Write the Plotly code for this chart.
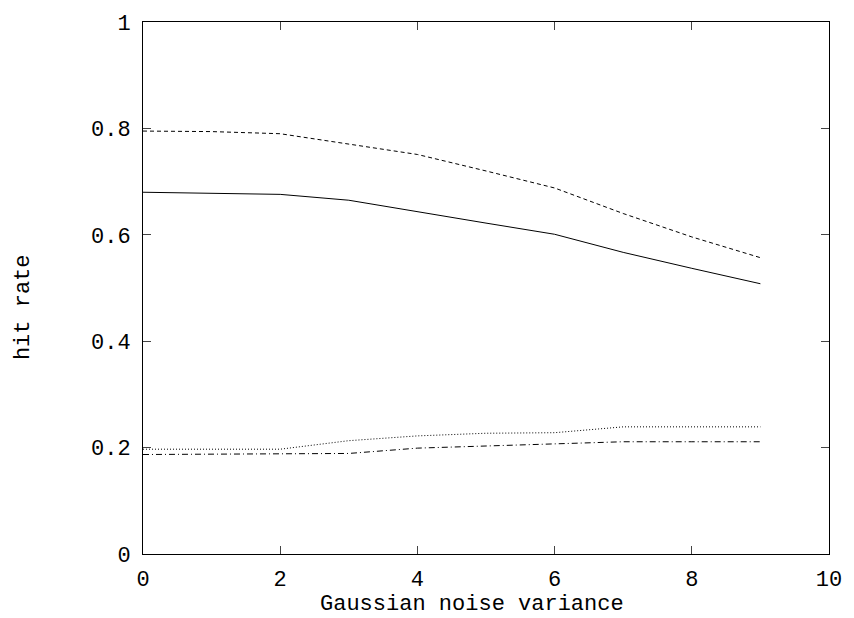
import plotly.graph_objects as go

x_vals = [0, 1, 2, 3, 4, 5, 6, 7, 8, 9]
solid = [0.680, 0.678, 0.676, 0.665, 0.643, 0.622, 0.601, 0.567, 0.537, 0.508]
dashed = [0.795, 0.794, 0.790, 0.771, 0.751, 0.720, 0.688, 0.640, 0.596, 0.557]
dotted = [0.197, 0.197, 0.197, 0.213, 0.222, 0.227, 0.228, 0.239, 0.239, 0.239]
dashdot = [0.187, 0.188, 0.189, 0.189, 0.199, 0.203, 0.206, 0.211, 0.211, 0.211]

x_ticks = [0, 2, 4, 6, 8, 10]
y_ticks = [0, 0.2, 0.4, 0.6, 0.8, 1]
y_ticktext = ["0", "0.2", "0.4", "0.6", "0.8", "1"]
x_title = "Gaussian noise variance"
y_title = "hit rate"

FONT = "Liberation Mono"

fig = go.Figure()
series = [
    (solid, "solid"),
    (dashed, "4px,3px"),
    (dotted, "1px,2px"),
    (dashdot, "6px,3px,1px,3px"),
]
for ys, dash in series:
    fig.add_trace(go.Scatter(x=x_vals, y=ys, mode="lines",
                             line=dict(color="black", width=1, dash=dash),
                             showlegend=False))

fig.update_layout(
    width=854, height=618,
    margin=dict(l=143, r=20, t=15, b=64),
    paper_bgcolor="white", plot_bgcolor="white",
    font=dict(family=FONT, size=22, color="black"),
)
fig.update_xaxes(
    range=[0, 10], tickvals=x_ticks, ticks="inside", ticklen=8,
    showline=True, linecolor="black", linewidth=1, mirror="ticks",
    showgrid=False, zeroline=False, ticklabelstandoff=5,
)
fig.update_yaxes(
    range=[0, 1], tickvals=y_ticks, ticktext=y_ticktext, ticks="inside", ticklen=8,
    showline=True, linecolor="black", linewidth=1, mirror="ticks",
    showgrid=False, zeroline=False, ticklabelstandoff=7,
)
fig.add_annotation(text=x_title, xref="paper", yref="paper", x=0.480, y=-0.0946,
                   xanchor="center", yanchor="middle", showarrow=False,
                   font=dict(family=FONT, size=22, color="black"))
fig.add_annotation(text=y_title, xref="paper", yref="paper", x=-0.175, y=0.464,
                   xanchor="center", yanchor="middle", showarrow=False, textangle=-90,
                   font=dict(family=FONT, size=22, color="black"))
fig.write_html("out.html")
